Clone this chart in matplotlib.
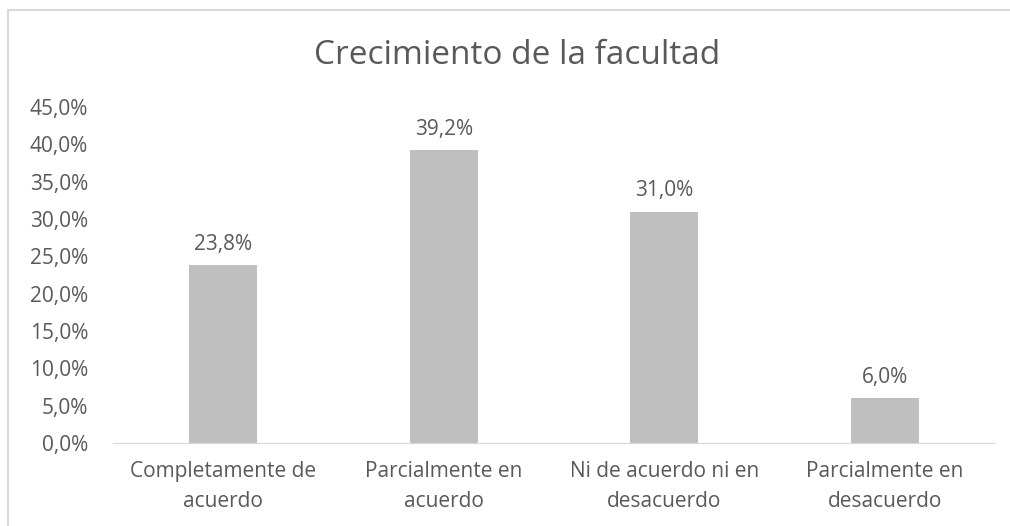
import numpy as np
import matplotlib.pyplot as plt
from matplotlib.patches import Rectangle
from matplotlib.ticker import FuncFormatter

categories = ['Completamente de\nacuerdo', 'Parcialmente en\nacuerdo',
              'Ni de acuerdo ni en\ndesacuerdo', 'Parcialmente en\ndesacuerdo']
values = [23.8, 39.2, 31.0, 6.0]
yticks = np.arange(0, 46, 5)

plt.rcParams['font.family'] = ['Open Sans', 'DejaVu Sans']
gray_text = '#595959'

fig = plt.figure(figsize=(10.1, 5.26), dpi=100)
# chart border (cropped at right and bottom)
fig.patches.append(Rectangle((8/1010, -0.1), 1.2, 1 - 10/526 + 0.1,
                             transform=fig.transFigure, fill=False,
                             edgecolor='#d9d9d9', linewidth=1.5))

ax = fig.add_axes([113/1010, 1 - 443/526, 882/1010, 336/526])
x = np.arange(len(categories))
bars = ax.bar(x, values, width=0.31, color='#bfbfbf')
ax.set_xlim(-0.5, len(categories) - 0.5)
ax.set_ylim(0, 45)
ax.set_yticks(yticks)
ax.yaxis.set_major_formatter(FuncFormatter(lambda v, p: f'{v:.1f}%'.replace('.', ',')))
ax.set_xticks(x)
ax.set_xticklabels(categories, linespacing=1.55)

for s in ['top', 'right', 'left']:
    ax.spines[s].set_visible(False)
ax.spines['bottom'].set_color('#d9d9d9')
ax.tick_params(axis='both', length=0, labelsize=15, colors=gray_text)
ax.tick_params(axis='y', pad=18)
ax.tick_params(axis='x', pad=13)

for b, v in zip(bars, values):
    ax.text(b.get_x() + b.get_width()/2, v + 1.4, f'{v:.1f}%'.replace('.', ','),
            ha='center', va='bottom', fontsize=15, color=gray_text)

fig.text(517/1010, 1 - 55/526, 'Crecimiento de la facultad', ha='center', va='center',
         fontsize=24, color=gray_text)

fig.savefig('out.png', dpi=100)
